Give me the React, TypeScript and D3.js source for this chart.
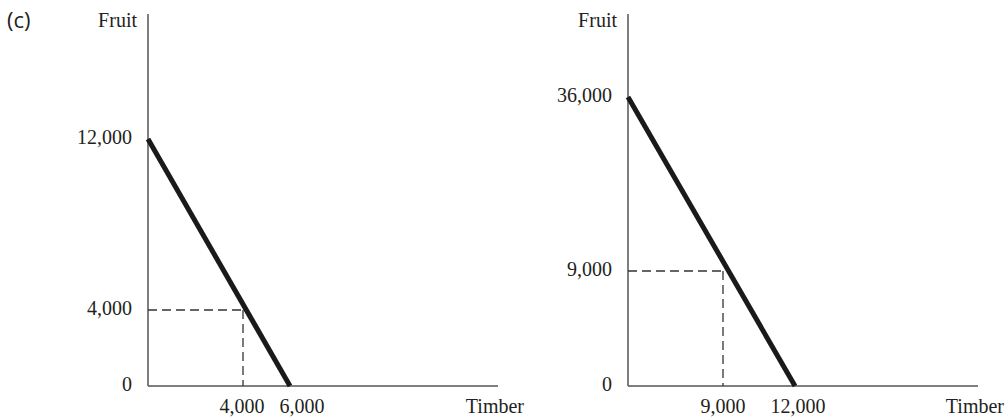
import React from "react";
import * as d3 from "d3";

// ---- Data ----
const leftPPF = [
  { timber: 0, fruit: 12000 },
  { timber: 6000, fruit: 0 },
];
const leftPoint = { timber: 4000, fruit: 4000 };
const leftYTicks = [0, 4000, 12000];
const leftXTicks = [4000, 6000];

const rightPPF = [
  { timber: 0, fruit: 36000 },
  { timber: 12000, fruit: 0 },
];
const rightPoint = { timber: 9000, fruit: 9000 };
const rightYTicks = [0, 9000, 36000];
const rightXTicks = [9000, 12000];

const panelLabel = "(c)";
const yAxisLabel = "Fruit";
const xAxisLabel = "Timber";

const W = 1008;
const H = 420;
const SERIF = "'Liberation Serif', 'Times New Roman', serif";
const fmt = d3.format(",");

type Pt = { timber: number; fruit: number };

function Panel({
  ppf,
  point,
  yTicks,
  xTicks,
  x0,
  xEnd,
  xPix,
  yPix,
  xLabelShift,
}: {
  ppf: Pt[];
  point: Pt;
  yTicks: number[];
  xTicks: number[];
  x0: number;
  xEnd: number;
  xPix: number[];
  yPix: number[];
  xLabelShift: number[];
}) {
  const yBase = 386;
  const yTop = 14;
  const x = d3
    .scaleLinear()
    .domain([0, point.timber, ppf[1].timber])
    .range(xPix);
  const y = d3
    .scaleLinear()
    .domain([0, point.fruit, ppf[0].fruit])
    .range(yPix);
  const line = d3
    .line<Pt>()
    .x((d) => x(d.timber))
    .y((d) => y(d.fruit));
  const ink = "#231f20";
  return (
    <g>
      {/* axes */}
      <line x1={x0} x2={x0} y1={yTop} y2={yBase} stroke="#555" strokeWidth={1.5} />
      <line x1={x0} x2={xEnd} y1={yBase} y2={yBase} stroke="#555" strokeWidth={1.5} />
      {/* dashed guides */}
      <line
        x1={x(0)}
        x2={x(point.timber)}
        y1={y(point.fruit)}
        y2={y(point.fruit)}
        stroke="#333"
        strokeWidth={1.3}
        strokeDasharray="9,5"
      />
      <line
        x1={x(point.timber)}
        x2={x(point.timber)}
        y1={y(point.fruit)}
        y2={y(0)}
        stroke="#333"
        strokeWidth={1.3}
        strokeDasharray="9,5"
      />
      {/* PPF */}
      <path d={line(ppf) || ""} fill="none" stroke="#1a1a1a" strokeWidth={5} />
      {/* y tick labels */}
      {yTicks.map((t) => (
        <text
          key={"y" + t}
          x={x0 - 16}
          y={y(t) + 5}
          textAnchor="end"
          fontFamily={SERIF}
          fontSize={20}
          fill={ink}
        >
          {fmt(t)}
        </text>
      ))}
      {/* x tick labels */}
      {xTicks.map((t, i) => (
        <text
          key={"x" + t}
          x={x(t) + xLabelShift[i]}
          y={413}
          textAnchor="middle"
          fontFamily={SERIF}
          fontSize={20}
          fill={ink}
        >
          {fmt(t)}
        </text>
      ))}
      <text x={x0 - 11} y={27} textAnchor="end" fontFamily={SERIF} fontSize={20} fill={ink}>
        {yAxisLabel}
      </text>
      <text x={xEnd + 26} y={413} textAnchor="end" fontFamily={SERIF} fontSize={20} fill={ink}>
        {xAxisLabel}
      </text>
    </g>
  );
}

export default function App() {
  return (
    <svg
      width={W}
      height={H}
      viewBox={`0 0 ${W} ${H}`}
      style={{ position: "absolute", left: 0, top: 0, background: "#fff" }}
    >
      <rect width={W} height={H} fill="#fff" />
      <text x={7} y={28} fontFamily="'Open Sans', Lato, sans-serif" fontSize={22} fill="#231f20">
        {panelLabel}
      </text>
      <Panel
        ppf={leftPPF}
        point={leftPoint}
        yTicks={leftYTicks}
        xTicks={leftXTicks}
        x0={148}
        xEnd={498}
        xPix={[148, 243, 290]}
        yPix={[386, 310, 139]}
        xLabelShift={[-1, 12]}
      />
      <Panel
        ppf={rightPPF}
        point={rightPoint}
        yTicks={rightYTicks}
        xTicks={rightXTicks}
        x0={628}
        xEnd={978}
        xPix={[628, 723, 795]}
        yPix={[386, 271, 97]}
        xLabelShift={[0, 3]}
      />
    </svg>
  );
}
